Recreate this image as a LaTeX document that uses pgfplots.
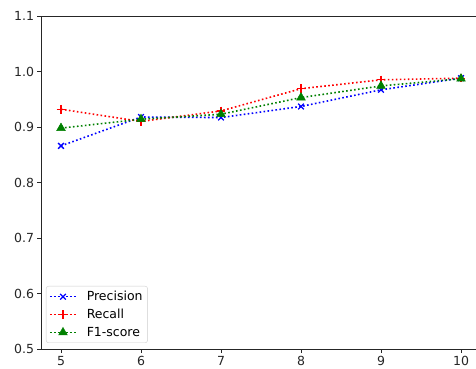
\documentclass[border=0pt]{standalone}
\usepackage{fontspec}
\setmainfont{DejaVu Sans}
\usepackage{pgfplots}
\usetikzlibrary{calc}
\pgfplotsset{compat=1.18}
\begin{document}
\begin{tikzpicture}
\begin{axis}[
  name=ax,
  scale only axis,
  width=435pt, height=333pt,
  xmin=4.75, xmax=10.1875,
  ymin=0.5, ymax=1.1,
  axis x line*=bottom,
  axis y line*=left,
  axis line style={black!85, line width=0.8pt, -},
  xtick={5,6,7,8,9,10},
  ytick={0.5,0.6,0.7,0.8,0.9,1.0,1.1},
  tick align=outside,
  major tick length=3.5pt,
  tick style={black!85, line width=0.8pt},
  yticklabel style={/pgf/number format/fixed, /pgf/number format/fixed zerofill, /pgf/number format/precision=1},
  /pgf/number format/assume math mode=true,
  ticklabel style={font=\fontsize{12.5}{14}\selectfont, text=black!85},
  legend style={at={(0,0)}, anchor=south west, xshift=5pt, yshift=6pt,
    draw=black!20, rounded corners=2.5pt, fill=white,
    font=\fontsize{12.5}{14}\selectfont, row sep=3pt, column sep=8pt,
    inner xsep=3pt, inner ysep=3pt},
  legend cell align=left,
  legend image code/.code={
    \draw[mark repeat=2, mark phase=2] plot coordinates {(0pt,0pt) (13pt,0pt) (26pt,0pt)};
  },
  every axis plot/.append style={line width=1.6pt, dash pattern=on 1.6pt off 2.4pt, line cap=butt},
]
\addplot[color=blue, mark=x, mark size=4pt, mark options={solid, line width=1.3pt}] coordinates {
 (5,0.866) (6,0.918) (7,0.917) (8,0.937) (9,0.967) (10,0.988)};
\addlegendentry{Precision}
\addplot[color=red, mark=+, mark size=4.3pt, mark options={solid, line width=1.3pt}] coordinates {
 (5,0.932) (6,0.910) (7,0.929) (8,0.969) (9,0.985) (10,0.988)};
\addlegendentry{Recall}
\addplot[color=green!50!black, mark=triangle*, mark size=5pt, mark options={solid, line width=0.5pt}] coordinates {
 (5,0.898) (6,0.914) (7,0.923) (8,0.953) (9,0.974) (10,0.987)};
\addlegendentry{F1-score}
\end{axis}
\draw[black!85, line width=0.8pt] (ax.north west) -- (ax.north east);
\pgfresetboundingbox
\path[use as bounding box] ($(ax.south west)+(-41pt,-20pt)$) rectangle ($(ax.north east)+(0pt,16pt)$);
\end{tikzpicture}
\end{document}
